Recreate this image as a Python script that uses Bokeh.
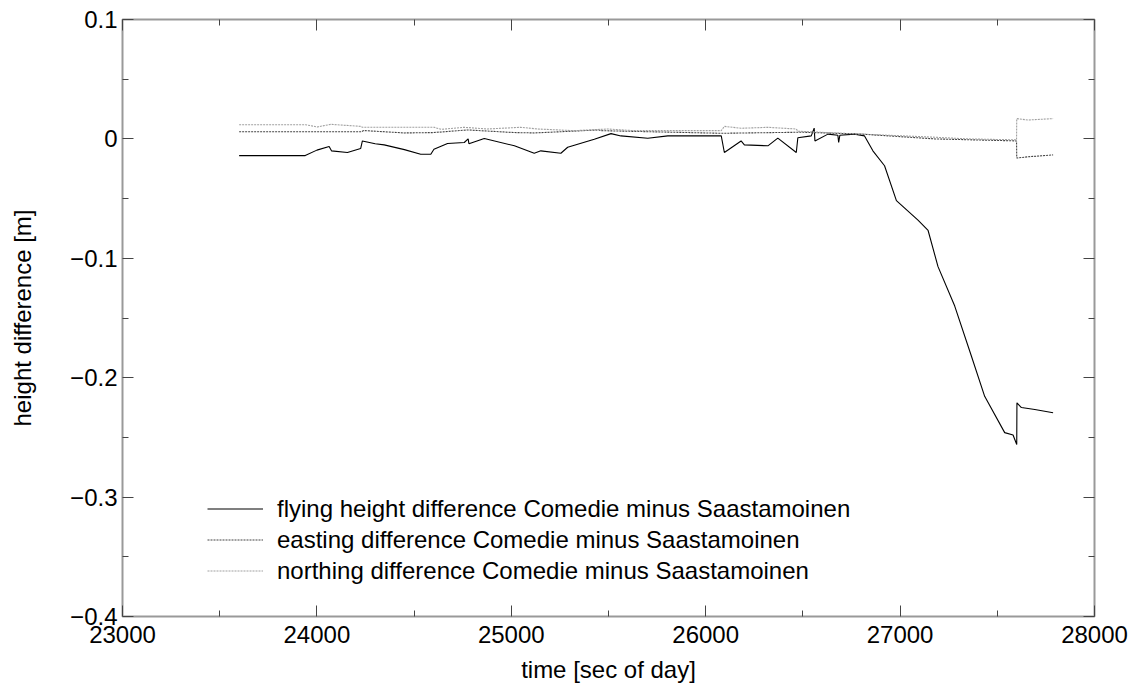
from bokeh.plotting import figure
from bokeh.models import FixedTicker, LinearAxis, Range1d, Legend, LegendItem
from bokeh.embed import file_html
from bokeh.resources import INLINE

# ---- data ----
t_height = [23600, 23940, 24000, 24063, 24075, 24157, 24225, 24234, 24300, 24346, 24450, 24534, 24586,
            24602, 24672, 24758, 24778, 24782, 24861, 25016, 25118, 25152, 25255, 25290, 25427,
            25513, 25564, 25702, 25805, 26080, 26096, 26182, 26199, 26320, 26371, 26466, 26474,
            26543, 26558, 26562, 26629, 26680, 26684, 26690, 26766, 26817, 26860, 26920, 26981,
            27092, 27144, 27195, 27281, 27367, 27435, 27538, 27581, 27600, 27601, 27624, 27693, 27787]
height_diff = [-0.014, -0.014, -0.0094, -0.0064, -0.010, -0.0114, -0.0081, -0.0017, -0.004, -0.005, -0.009,
               -0.0128, -0.0128, -0.0086, -0.0039, -0.003, 0.000, -0.004, 0.0003, -0.0058, -0.012,
               -0.010, -0.012, -0.007, -0.0003, 0.0044, 0.0025, 0.0006, 0.0025, 0.0025, -0.0114,
               -0.0017, -0.005, -0.0058, 0.0006, -0.0114, 0.001, 0.0025, 0.009, -0.0017, 0.004,
               0.003, -0.003, 0.003, 0.004, 0.0025, -0.010, -0.0225, -0.0517, -0.068, -0.0767,
               -0.107, -0.14, -0.182, -0.2156, -0.246, -0.248, -0.256, -0.221, -0.225, -0.2267, -0.2294]

t_east = [23600, 24230, 24240, 24449, 24600, 24775, 25016, 25120, 25307, 25450, 25461, 26080,
          26491, 26802, 27178, 27599, 27600, 27658, 27787]
east_diff = [0.0060, 0.0060, 0.0070, 0.0050, 0.0053, 0.0075, 0.0053, 0.0050, 0.0064, 0.0075,
             0.0069, 0.0047, 0.0056, 0.0040, 0.0000, -0.0017, -0.016, -0.015, -0.0134]

t_north = [23600, 23942, 24002, 24071, 24225, 24234, 24603, 24640, 24757, 24878, 25049, 25135,
           25324, 25496, 25633, 26080, 26096, 26182, 26320, 26466, 26474, 26802, 27178, 27350,
           27599, 27600, 27658, 27787]
north_diff = [0.0119, 0.0119, 0.0100, 0.0122, 0.0105, 0.0097, 0.0097, 0.0080, 0.0097, 0.0083,
              0.0097, 0.0083, 0.0069, 0.0083, 0.0069, 0.0069, 0.0105, 0.0089, 0.0097, 0.0083,
              0.0064, 0.0040, 0.0014, 0.0000, -0.0008, 0.017, 0.0158, 0.017]

x_ticks = [23000, 24000, 25000, 26000, 27000, 28000]
x_minor = [23500, 24500, 25500, 26500, 27500]
y_ticks = [0.1, 0.0, -0.1, -0.2, -0.3, -0.4]
y_minor = [0.05, -0.05, -0.15, -0.25, -0.35]
y_tick_labels = ["0.1", "0", "\u22120.1", "\u22120.2", "\u22120.3", "\u22120.4"]
series_labels = ["flying height difference Comedie minus Saastamoinen",
                 "easting difference Comedie minus Saastamoinen",
                 "northing difference Comedie minus Saastamoinen"]

FONT = "Liberation Sans"

p = figure(width=1133, height=685, output_backend="svg", toolbar_location=None,
           x_range=Range1d(23000, 28000), y_range=Range1d(-0.4, 0.1),
           min_border_left=122, min_border_right=39, min_border_top=19, min_border_bottom=68)
p.background_fill_color = "white"
p.border_fill_color = "white"
p.outline_line_color = "#999999"
p.outline_line_width = 2
p.xgrid.visible = False
p.ygrid.visible = False

def style_axis(ax):
    ax.axis_line_color = None
    ax.major_tick_in = 11
    ax.major_tick_out = 0
    ax.minor_tick_in = 6
    ax.minor_tick_out = 0
    ax.major_tick_line_color = "#444444"
    ax.minor_tick_line_color = "#444444"
    ax.major_label_text_font = FONT
    ax.major_label_text_font_size = "24px"
    ax.major_label_text_color = "black"
    ax.axis_label_text_font = FONT
    ax.axis_label_text_font_size = "24px"
    ax.axis_label_text_font_style = "normal"
    ax.axis_label_text_color = "black"

p.xaxis.ticker = FixedTicker(ticks=x_ticks, minor_ticks=x_minor)
p.yaxis.ticker = FixedTicker(ticks=y_ticks, minor_ticks=y_minor)
p.xaxis.axis_label = "time [sec of day]"
p.yaxis.axis_label = "height difference [m]"
p.yaxis.major_label_overrides = {v: s for v, s in zip(y_ticks, y_tick_labels)}
style_axis(p.xaxis[0])
style_axis(p.yaxis[0])
p.xaxis.major_label_standoff = 9
p.yaxis.major_label_standoff = 5
p.xaxis.axis_label_standoff = 10
p.yaxis.axis_label_standoff = 31

top = LinearAxis(ticker=FixedTicker(ticks=x_ticks, minor_ticks=x_minor),
                 major_label_overrides={v: "" for v in x_ticks})
style_axis(top)
p.add_layout(top, "above")
right = LinearAxis(ticker=FixedTicker(ticks=y_ticks, minor_ticks=y_minor),
                   major_label_overrides={v: "" for v in y_ticks})
style_axis(right)
p.add_layout(right, "right")

r1 = p.line(t_height, height_diff, line_color="black", line_width=1.1)
r2 = p.line(t_east, east_diff, line_color="#444444", line_width=1.1, line_dash="2 1")
r3 = p.line(t_north, north_diff, line_color="#a0a0a0", line_width=1.1, line_dash="2 1")

legend = Legend(items=[LegendItem(label=series_labels[0], renderers=[r1]),
                       LegendItem(label=series_labels[1], renderers=[r2]),
                       LegendItem(label=series_labels[2], renderers=[r3])],
                location=(85, 30))
legend.background_fill_alpha = 0
legend.border_line_color = None
legend.label_text_font = FONT
legend.label_text_font_size = "24px"
legend.label_text_color = "black"
legend.glyph_width = 56
legend.glyph_height = 31
legend.label_height = 31
legend.label_standoff = 14
legend.spacing = 0
legend.padding = 0
legend.margin = 0
p.add_layout(legend, "center")

open("out.html", "w").write(file_html(p, INLINE))
